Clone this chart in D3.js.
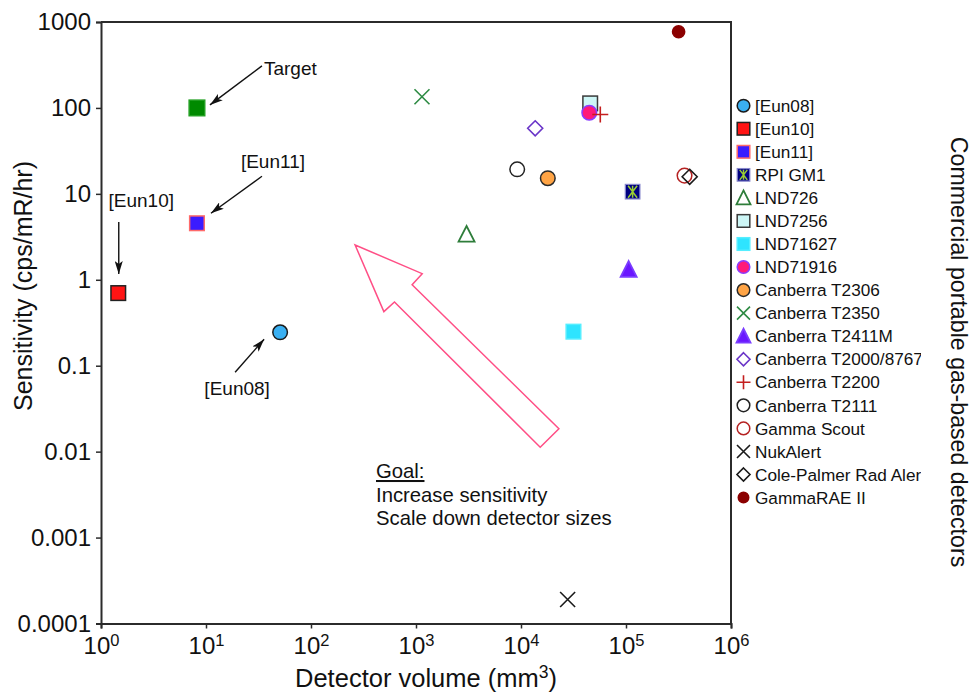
<!DOCTYPE html>
<html>
<head>
<meta charset="utf-8">
<script src="https://cdn.jsdelivr.net/npm/d3@7"></script>
<style>
  html, body { margin: 0; padding: 0; background: #fff; }
  svg { display: block; font-family: "Liberation Sans", Arial, Helvetica, sans-serif; }
</style>
</head>
<body>
<svg id="chart" width="975" height="698"></svg>
<script>
// ---------------- DATA ----------------
const detectors = ["[Eun08]", "[Eun10]", "[Eun11]", "RPI GM1", "LND726", "LND7256", "LND71627", "LND71916",
  "Canberra T2306", "Canberra T2350", "Canberra T2411M", "Canberra T2000/8767", "Canberra T2200",
  "Canberra T2111", "Gamma Scout", "NukAlert", "Cole-Palmer Rad Alert", "GammaRAE II"];
const volumes = [50.8, 1.46, 8.2, 115600, 3030, 45600, 31600, 44700,
  18000, 1140, 106000, 13650, 56900,
  9200, 361000, 27800, 404000, 317000];
const sensitivities = [0.245, 0.70, 4.55, 10.6, 3.38, 113, 0.249, 88,
  15.2, 135, 1.32, 58, 84,
  19.3, 16.3, 0.00019, 15.8, 770];
const targetVolume = 8.2;
const targetSensitivity = 100;
const yTickValues = [1e-4, 1e-3, 1e-2, 1e-1, 1, 10, 100, 1000];
const yTickLabels = ["0.0001", "0.001", "0.01", "0.1", "1", "10", "100", "1000"];
const xTickValues = [1, 10, 100, 1e3, 1e4, 1e5, 1e6];
const xTickExponents = ["0", "1", "2", "3", "4", "5", "6"];
// goal arrow outline (log10 coordinates)
const goalArrowLogX = [2.420, 3.059, 2.963, 4.361, 4.183, 2.795, 2.694];
const goalArrowLogY = [0.405, 0.071, -0.057, -1.733, -1.949, -0.258, -0.371];
const goalLines = ["Goal:", "Increase sensitivity", "Scale down detector sizes"];

// ---------------- STYLES ----------------
const markerStyles = [
  {type: "circle", fill: "#3ab0f2", stroke: "#1a1a1a"},
  {type: "square", fill: "#ff1414", stroke: "#222"},
  {type: "square", fill: "#3a1cff", stroke: "#ff6a6a"},
  {type: "sqast", fill: "#000080", stroke: "#8888cc", ast: "#9acd32"},
  {type: "triangle", fill: "none", stroke: "#2e7d3a"},
  {type: "square", fill: "#cdf6f6", stroke: "#3a3a3a"},
  {type: "square", fill: "#2ee4ff", stroke: "#55eeff"},
  {type: "circle", fill: "#ff1a78", stroke: "#8a3cff"},
  {type: "circle", fill: "#ffa445", stroke: "#2a2a2a"},
  {type: "x", fill: "none", stroke: "#2e8b44"},
  {type: "triangle", fill: "#6a16ff", stroke: "#7a3cff"},
  {type: "diamond", fill: "none", stroke: "#6a35c8"},
  {type: "plus", fill: "none", stroke: "#c41e1e"},
  {type: "circle", fill: "none", stroke: "#222"},
  {type: "circle", fill: "none", stroke: "#b52222"},
  {type: "x", fill: "none", stroke: "#1a1a1a"},
  {type: "diamond", fill: "none", stroke: "#1a1a1a"},
  {type: "circle", fill: "#8b0000", stroke: "#8b0000", small: true}
];

const svg = d3.select("#chart");
const mLeft = 101, mRight = 731, mTop = 22, mBottom = 623.5;

const x = d3.scaleLog().domain([1, 1e6]).range([mLeft, mRight]);
const y = d3.scaleLog().domain([1e-4, 1e3]).range([mBottom, mTop]);

const axisColor = "#2b2b2b";
const FONT = "'Liberation Sans', Arial, sans-serif";

// ---------------- MARKERS ----------------
function drawMarker(g, st, s) {
  if (st.small) s = s * 0.85;
  const hh = s / 2;
  if (st.type === "circle") {
    g.append("circle").attr("r", hh - 0.7).attr("fill", st.fill).attr("stroke", st.stroke).attr("stroke-width", 1.5);
  } else if (st.type === "square") {
    g.append("rect").attr("x", -hh + 0.7).attr("y", -hh + 0.7).attr("width", s - 1.4).attr("height", s - 1.4)
      .attr("fill", st.fill).attr("stroke", st.stroke).attr("stroke-width", 1.5);
  } else if (st.type === "sqast") {
    g.append("rect").attr("x", -hh + 0.7).attr("y", -hh + 0.7).attr("width", s - 1.4).attr("height", s - 1.4)
      .attr("fill", st.fill).attr("stroke", st.stroke).attr("stroke-width", 1.2);
    const a = hh - 2;
    g.append("path").attr("d", `M0,${-a}V${a}M${-a * 0.75},${-a}L${a * 0.75},${a}M${a * 0.75},${-a}L${-a * 0.75},${a}`)
      .attr("stroke", st.ast).attr("stroke-width", 1.5).attr("fill", "none");
  } else if (st.type === "triangle") {
    const th = s * 0.92;
    g.append("path").attr("d", `M0,${-th / 2 - 1}L${hh},${th / 2}L${-hh},${th / 2}Z`)
      .attr("fill", st.fill).attr("stroke", st.stroke).attr("stroke-width", 1.8).attr("stroke-linejoin", "miter");
  } else if (st.type === "diamond") {
    const d = hh - 0.5;
    g.append("path").attr("d", `M0,${-d}L${d},0L0,${d}L${-d},0Z`)
      .attr("fill", st.fill).attr("stroke", st.stroke).attr("stroke-width", 1.6);
  } else if (st.type === "x") {
    const d = hh - 0.5;
    g.append("path").attr("d", `M${-d},${-d}L${d},${d}M${d},${-d}L${-d},${d}`)
      .attr("fill", "none").attr("stroke", st.stroke).attr("stroke-width", 1.6);
  } else if (st.type === "plus") {
    const d = hh;
    g.append("path").attr("d", `M${-d},0H${d}M0,${-d}V${d}`)
      .attr("fill", "none").attr("stroke", st.stroke).attr("stroke-width", 1.6);
  }
}

// ---------------- AXES ----------------
const yAxis = d3.axisLeft(y).tickValues(yTickValues).tickSize(5).tickFormat((d, i) => yTickLabels[i]);
const gy = svg.append("g").attr("transform", `translate(${mLeft},0)`).call(yAxis);
gy.select(".domain").attr("stroke", axisColor).attr("stroke-width", 2);
gy.selectAll(".tick line").attr("stroke", axisColor).attr("stroke-width", 1.5);
gy.selectAll(".tick text").attr("font-size", 24).attr("fill", "#111").attr("x", -10)
  .attr("font-family", FONT);

const xAxis = d3.axisBottom(x).tickValues(xTickValues).tickSize(5).tickFormat("");
const gx = svg.append("g").attr("transform", `translate(0,${mBottom})`).call(xAxis);
gx.select(".domain").attr("stroke", axisColor).attr("stroke-width", 2);
gx.selectAll(".tick line").attr("stroke", axisColor).attr("stroke-width", 1.5);
gx.selectAll(".tick").each(function (d, i) {
  const t = d3.select(this).append("text").attr("y", 30).attr("fill", "#111")
    .attr("text-anchor", "middle").attr("font-size", 24)
    .attr("font-family", FONT);
  t.append("tspan").text("10");
  t.append("tspan").attr("dy", -8).attr("font-size", 16.5).text(xTickExponents[i]);
});

// top & right frame
svg.append("path").attr("d", `M${mLeft},${mTop}H${mRight}V${mBottom}`)
  .attr("fill", "none").attr("stroke", axisColor).attr("stroke-width", 2);

// axis titles
const xt = svg.append("text").attr("x", 426).attr("y", 687).attr("text-anchor", "middle")
  .attr("font-size", 25.5).attr("fill", "#111");
xt.append("tspan").text("Detector volume (mm");
xt.append("tspan").attr("dy", -9).attr("font-size", 17.5).text("3");
xt.append("tspan").attr("dy", 9).text(")");

svg.append("text").attr("transform", `translate(32,286) rotate(-90)`).attr("text-anchor", "middle")
  .attr("font-size", 25).attr("fill", "#111").text("Sensitivity (cps/mR/hr)");

svg.append("text").attr("transform", `translate(951,352) rotate(90)`).attr("text-anchor", "middle")
  .attr("font-size", 23.2).attr("fill", "#111").text("Commercial portable gas-based detectors");

// ---------------- GOAL ARROW ----------------
const arrowPts = goalArrowLogX.map((lx, i) => [x(Math.pow(10, lx)), y(Math.pow(10, goalArrowLogY[i]))]);
svg.append("path").attr("d", d3.line()(arrowPts) + "Z")
  .attr("fill", "none").attr("stroke", "#ff4f86").attr("stroke-width", 1.5).attr("stroke-linejoin", "miter");

const goalText = svg.append("text").attr("font-size", 20.3).attr("fill", "#111");
goalLines.forEach((ln, i) => {
  goalText.append("tspan").attr("x", 376).attr("y", 478 + i * 23.6).text(ln)
    .attr("text-decoration", i === 0 ? "underline" : null);
});

// ---------------- POINTS ----------------
const plotG = svg.append("g");
const tg = plotG.append("g").attr("transform", `translate(${x(targetVolume)},${y(targetSensitivity)})`);
drawMarker(tg, {type: "square", fill: "#008a00", stroke: "#22a022"}, 17);

detectors.forEach((name, i) => {
  const g = plotG.append("g").attr("transform", `translate(${x(volumes[i])},${y(sensitivities[i])})`);
  drawMarker(g, markerStyles[i], 16);
});

// ---------------- ANNOTATIONS ----------------
const defs = svg.append("defs");
defs.append("marker").attr("id", "ah").attr("viewBox", "0 0 13 8").attr("refX", 13).attr("refY", 4)
  .attr("markerWidth", 13).attr("markerHeight", 8).attr("markerUnits", "userSpaceOnUse").attr("orient", "auto")
  .append("path").attr("d", "M0,0L13,4L0,8L3,4Z").attr("fill", "#111");

function annotate(px, py, dx1, dy1, dx2, dy2) {
  svg.append("line").attr("x1", px + dx1).attr("y1", py + dy1).attr("x2", px + dx2).attr("y2", py + dy2)
    .attr("stroke", "#111").attr("stroke-width", 1.4).attr("marker-end", "url(#ah)");
}
const tX = x(targetVolume), tY = y(targetSensitivity);
annotate(tX, tY, 65, -42, 13, -3);
svg.append("text").attr("x", tX + 67).attr("y", tY - 33).attr("font-size", 19).attr("fill", "#111").text("Target");

const e11X = x(volumes[2]), e11Y = y(sensitivities[2]);
annotate(e11X, e11Y, 65, -47, 14, -10);
svg.append("text").attr("x", e11X + 76).attr("y", e11Y - 55).attr("font-size", 19).attr("text-anchor", "middle")
  .attr("fill", "#111").text("[Eun11]");

const e10X = x(volumes[1]), e10Y = y(sensitivities[1]);
annotate(e10X, e10Y, 0.5, -71, 0.5, -19);
svg.append("text").attr("x", e10X + 23).attr("y", e10Y - 86).attr("font-size", 19).attr("text-anchor", "middle")
  .attr("fill", "#111").text("[Eun10]");

const e08X = x(volumes[0]), e08Y = y(sensitivities[0]);
annotate(e08X, e08Y, -45, 40, -16, 7);
svg.append("text").attr("x", e08X - 43).attr("y", e08Y + 63).attr("font-size", 19).attr("text-anchor", "middle")
  .attr("fill", "#111").text("[Eun08]");

// ---------------- LEGEND ----------------
defs.append("clipPath").attr("id", "legclip").append("rect").attr("x", 732).attr("y", 80).attr("width", 189).attr("height", 440);
const leg = svg.append("g").attr("clip-path", "url(#legclip)");
detectors.forEach((name, i) => {
  const cy = 105.7 + i * 23.05;
  const g = leg.append("g").attr("transform", `translate(743.5,${cy})`);
  drawMarker(g, markerStyles[i], 14);
  leg.append("text").attr("x", 755).attr("y", cy).attr("dy", "0.36em").attr("font-size", 17.2)
    .attr("fill", "#111").text(name);
});
</script>
</body>
</html>
